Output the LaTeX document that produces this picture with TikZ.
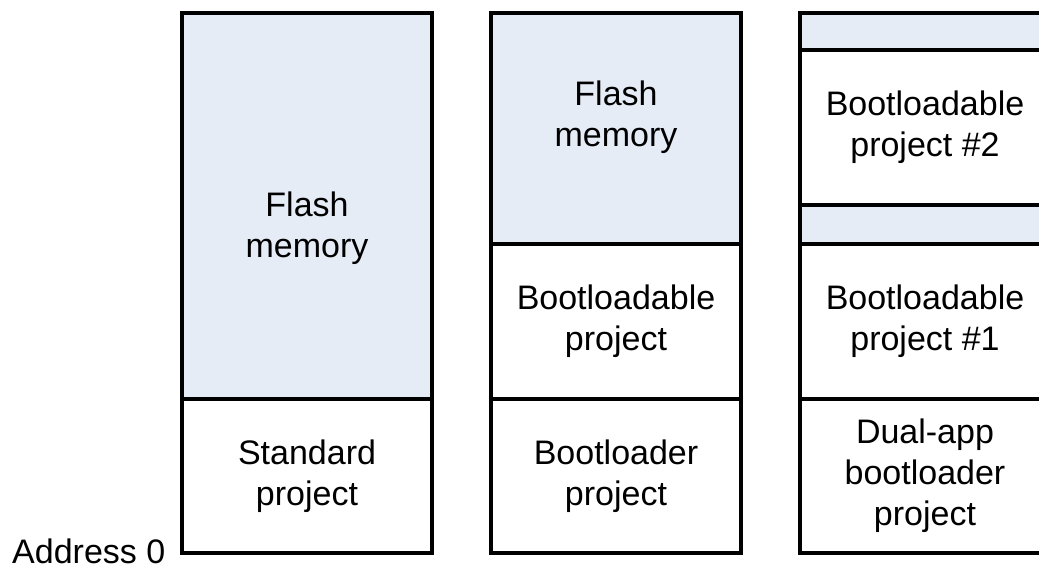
\documentclass[tikz,border=0pt]{standalone}
\usepackage{fontspec}
\setmainfont{Liberation Sans}
\usetikzlibrary{positioning}
\definecolor{flashfill}{RGB}{229,236,246}

\begin{document}
\begin{tikzpicture}[x=1pt, y=-1pt,
    blk/.style={draw, line width=3.5pt, outer sep=0pt, inner sep=0pt,
                minimum width=250pt, align=center,
                font=\fontsize{34}{41}\selectfont},
    free/.style={blk, fill=flashfill},
    txt/.style={inner sep=0pt, align=center, font=\fontsize{34}{41}\selectfont}]
    \useasboundingbox (0,0) rectangle (1039,566);
    \clip (0,0) rectangle (1039,566);

    % standard project
    \node[free, minimum height=386pt, anchor=north] (flash1) at (307,13) {};
    \node[blk, minimum height=154pt, below=0pt of flash1] (std) {Standard\\project};
    \node[txt] (flashtxt1) at (307,228) {Flash\\memory};

    % bootloader + bootloadable
    \node[free, minimum height=231pt, anchor=north] (flash2) at (616,13) {};
    \node[blk, minimum height=155pt, below=0pt of flash2] (app) {Bootloadable\\project};
    \node[blk, minimum height=154pt, below=0pt of app] (boot) {Bootloader\\project};
    \node[txt] (flashtxt2) at (616,117) {Flash\\memory};

    % dual-app bootloader
    \node[free, minimum height=37pt, anchor=north] (top3) at (925,13) {};
    \node[blk, minimum height=155pt, below=0pt of top3] (app2) {Bootloadable\\project \#2};
    \node[free, minimum height=39pt, below=0pt of app2] (gap3) {};
    \node[blk, minimum height=155pt, below=0pt of gap3] (app1) {Bootloadable\\project \#1};
    \node[blk, minimum height=154pt, below=0pt of app1] (dual) {Dual-app\\bootloader\\project};

    \node[txt, anchor=base west] (addr) at (12,563) {Address 0};
\end{tikzpicture}
\end{document}
